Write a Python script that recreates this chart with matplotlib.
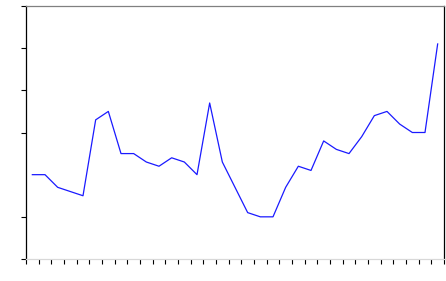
import numpy as np
import matplotlib
matplotlib.use('Agg')
import matplotlib.pyplot as plt

# values (33 points, category axis)
values = [2.0, 2.0, 1.7, 1.6, 1.5, 3.3, 3.5, 2.5, 2.5, 2.3, 2.2, 2.4, 2.3, 2.0,
          3.7, 2.3, 1.7, 1.1, 1.0, 1.0, 1.7, 2.2, 2.1, 2.8, 2.6, 2.5, 2.9, 3.4,
          3.5, 3.2, 3.0, 3.0, 5.1]
y_ticks = [0, 1, 3, 4, 5, 6]
y_tick_colors = ['black', '#404040', '#404040', '#d0d0d0', '#d0d0d0', '#808080']
# shade of each x tick, left to right (as seen in the picture)
x_tick_shades = ['#c0c0c0', '#404040', '#404040', '#808080', '#505050', '#909090',
                 '#404040', '#404040', '#d8d8d8', 'white', '#303030', '#ececec',
                 '#c8c8c8', '#404040', '#909090', '#808080', '#404040', '#404040',
                 '#404040', '#c8c8c8', '#c8c8c8', '#303030', 'white', 'white',
                 '#303030', '#404040', '#c8c8c8', '#404040', '#404040', '#808080',
                 '#909090', '#c8c8c8', '#404040', 'black']

n = len(values)
x = np.arange(n) + 0.5

fig = plt.figure(figsize=(4.46, 2.81), dpi=100)
ax = fig.add_axes([26 / 446, 22 / 281, 418 / 446, 253 / 281])

ax.plot(x, values, color='#1a1aff', linewidth=0.9)

ax.set_xlim(0, n)
ax.set_ylim(0, 6)

ax.set_xticks(np.arange(n + 1))
ax.set_yticks(y_ticks)
ax.set_xticklabels([])
ax.set_yticklabels([])
ax.tick_params(axis='both', length=3.8, width=0.8, direction='out')
for t, c in zip(ax.xaxis.get_major_ticks(), x_tick_shades):
    t.tick1line.set_color(c)
for t, c in zip(ax.yaxis.get_major_ticks(), y_tick_colors):
    t.tick1line.set_color(c)

ax.spines['left'].set_color('black')
ax.spines['right'].set_color('black')
ax.spines['top'].set_color('#808080')
ax.spines['bottom'].set_color('#d8d8d8')
for s in ax.spines.values():
    s.set_linewidth(0.9)

fig.savefig('out.png', dpi=100)
